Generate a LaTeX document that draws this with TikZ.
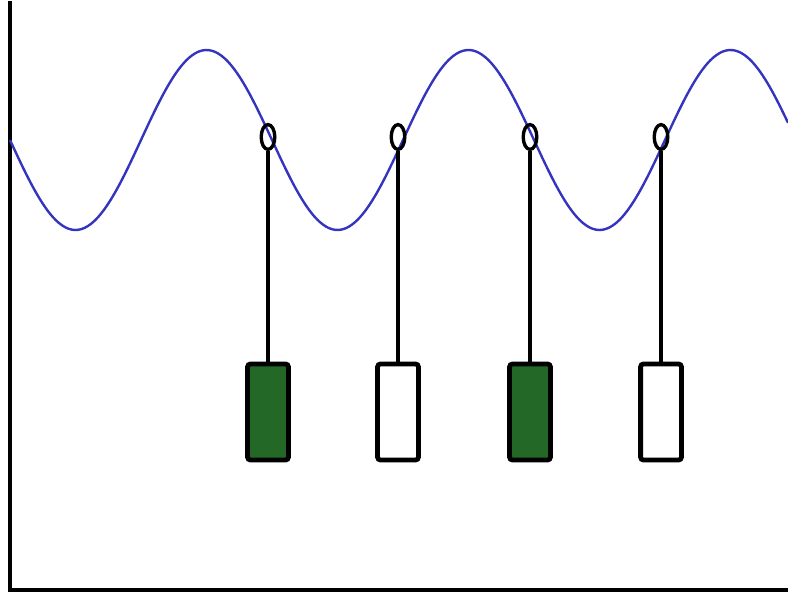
\documentclass[tikz,border=0pt]{standalone}
\usepackage{xcolor}
\usepackage{tikz}
\usetikzlibrary{shapes.geometric}

\definecolor{wave}{RGB}{52,52,190}
\definecolor{bobgreen}{RGB}{36,104,40}

\begin{document}
\begin{tikzpicture}[
    x=0.25mm, y=-0.25mm,
    ring/.style={ellipse, draw, line width=2.4pt, minimum width=3.4mm, minimum height=6.2mm, inner sep=0pt},
    bob/.style={rectangle, draw, line width=3.4pt, rounded corners=0.7mm, minimum width=10.2mm, minimum height=24mm, inner sep=0pt},
    rod/.style={line width=2.2pt}
]
\useasboundingbox (0,0) rectangle (788,596);

% Axes
\draw[line width=2.3pt, line cap=rect] (10,3) -- (10,590) -- (788,590);

% Wave
\draw[wave, line width=1.7pt] plot[domain=10:788, samples=240, smooth] (\x, {140+90*sin((\x-10)/262*360)});

% Rings on the wave, bobs hanging below
\foreach \x/\c [count=\i] in {268/bobgreen, 398/white, 530/bobgreen, 661/white} {
    \node[ring] (ring\i) at (\x,137) {};
    \node[bob, fill=\c] (bob\i) at (\x,412) {};
    \draw[rod] (ring\i.south) -- (bob\i.north);
}

\end{tikzpicture}
\end{document}
